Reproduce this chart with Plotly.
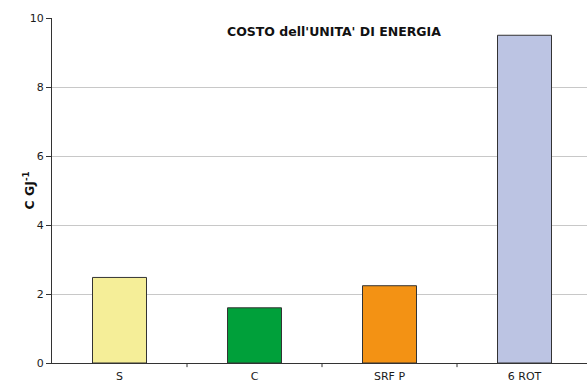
import plotly.graph_objects as go

categories = ["S", "C", "SRF P", "6 ROT"]
costs = [2.48, 1.6, 2.24, 9.5]
bar_colors = ["#F5EE98", "#00A03A", "#F39214", "#BCC4E3"]
y_ticks = [0, 2, 4, 6, 8, 10]

W, H = 587, 383
L, T, B, R = 52, 18, 20, 0

fig = go.Figure()
fig.add_trace(go.Bar(
    x=list(range(len(categories))),
    y=costs,
    width=0.4,
    marker=dict(color=bar_colors, line=dict(color="#333333", width=1)),
))

fig.update_layout(
    width=W, height=H,
    margin=dict(l=L, r=R, t=T, b=B, autoexpand=False),
    plot_bgcolor="white", paper_bgcolor="white",
    showlegend=False,
    font=dict(family="DejaVu Sans", size=10, color="#1a1a1a"),
    xaxis=dict(
        range=[-0.5, 3.463],
        tickmode="array",
        tickvals=list(range(len(categories))),
        ticktext=categories,
        showgrid=False,
        showline=True, linecolor="#333333", linewidth=1,
        ticks="", zeroline=False,
        ticklabelstandoff=3,
        tickfont=dict(size=11),
    ),
    yaxis=dict(
        range=[0, 10],
        tickvals=y_ticks,
        showgrid=True, gridcolor="#C8C8C8", gridwidth=1,
        showline=True, linecolor="#333333", linewidth=1,
        ticks="outside", ticklen=5, tickcolor="#333333",
        zeroline=False,
        tickfont=dict(size=11),
    ),
)

# category boundary tick marks along the x axis
for b in [0.5, 1.5, 2.5]:
    fig.add_shape(type="line", xref="x", yref="paper",
                  x0=b, x1=b, y0=0, y1=-0.012,
                  line=dict(color="#333333", width=1))

fig.add_annotation(
    text="<b>COSTO dell'UNITA' DI ENERGIA</b>",
    xref="paper", yref="paper", x=0.527, y=0.96,
    xanchor="center", yanchor="middle", showarrow=False,
    font=dict(size=12.5, color="#111111", family="DejaVu Sans"),
)
fig.add_annotation(
    text="<b>C GJ<sup>-1</sup></b>",
    xref="paper", yref="paper", x=0, y=0.5, xshift=-24,
    xanchor="center", yanchor="middle", showarrow=False,
    textangle=-90,
    font=dict(size=12.5, color="#111111", family="DejaVu Sans"),
)

fig.write_html("out.html")
